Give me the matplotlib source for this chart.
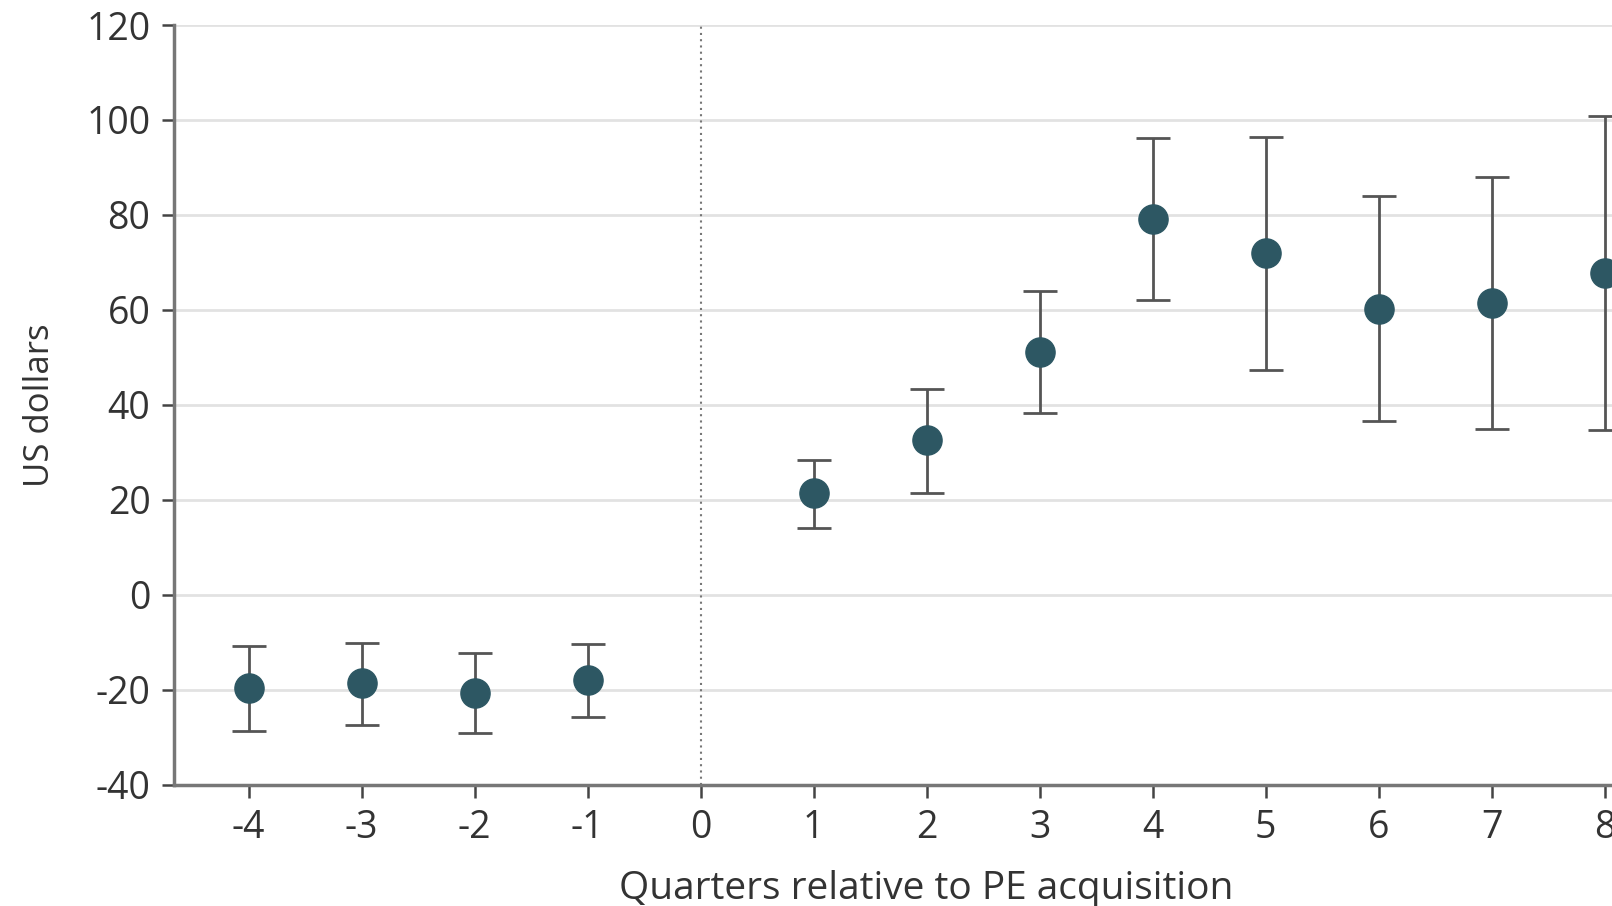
import numpy as np
import matplotlib.pyplot as plt

quarters = [-4, -3, -2, -1, 1, 2, 3, 4, 5, 6, 7, 8]
estimate = [-19.6, -18.6, -20.7, -17.9, 21.4, 32.6, 51.2, 79.2, 71.9, 60.2, 61.5, 67.8]
ci_upper = [-10.8, -10.1, -12.3, -10.4, 28.5, 43.4, 63.9, 96.3, 96.5, 84.0, 88.1, 100.8]
ci_lower = [-28.7, -27.4, -29.1, -25.7, 14.2, 21.4, 38.4, 62.2, 47.3, 36.7, 35.0, 34.8]

plt.rcParams['font.family'] = ['Open Sans', 'DejaVu Sans']
plt.rcParams['axes.unicode_minus'] = False

fig = plt.figure(figsize=(16.12, 9.06), dpi=100)
# axes run past the right edge, as in the cropped original
ax = fig.add_axes([0.108, 0.1336, 1.041 - 0.108, 0.9724 - 0.1336])

est = np.array(estimate)
yerr = [est - np.array(ci_lower), np.array(ci_upper) - est]

ax.axvline(0, color='#777777', lw=1.5, ls=(0, (1, 2)), zorder=1)
ax.errorbar(quarters, est, yerr=yerr, fmt='o', color='#2d5763', ms=21,
            ecolor='#555555', elinewidth=2, capsize=12, capthick=2, zorder=3)

ax.set_xlim(-4.66, 8.65)
ax.set_ylim(-40, 120)
ax.set_xticks(range(-4, 9))
ax.set_yticks(range(-40, 121, 20))
ax.grid(axis='y', color='#e2e2e2', lw=2, zorder=0)
ax.set_axisbelow(True)

for s in ['top', 'right']:
    ax.spines[s].set_visible(False)
for s in ['left', 'bottom']:
    ax.spines[s].set_color('#777777')
    ax.spines[s].set_linewidth(2.5)

ax.tick_params(axis='both', labelsize=27, colors='#333333', length=9, width=1.8, pad=8)
ax.tick_params(axis='both', color='#444444')

ax.set_xlabel('Quarters relative to PE acquisition', fontsize=28, color='#333333', labelpad=17)
ax.set_ylabel('US dollars', fontsize=25, color='#333333', labelpad=21)

fig.savefig('out.png', dpi=100)
